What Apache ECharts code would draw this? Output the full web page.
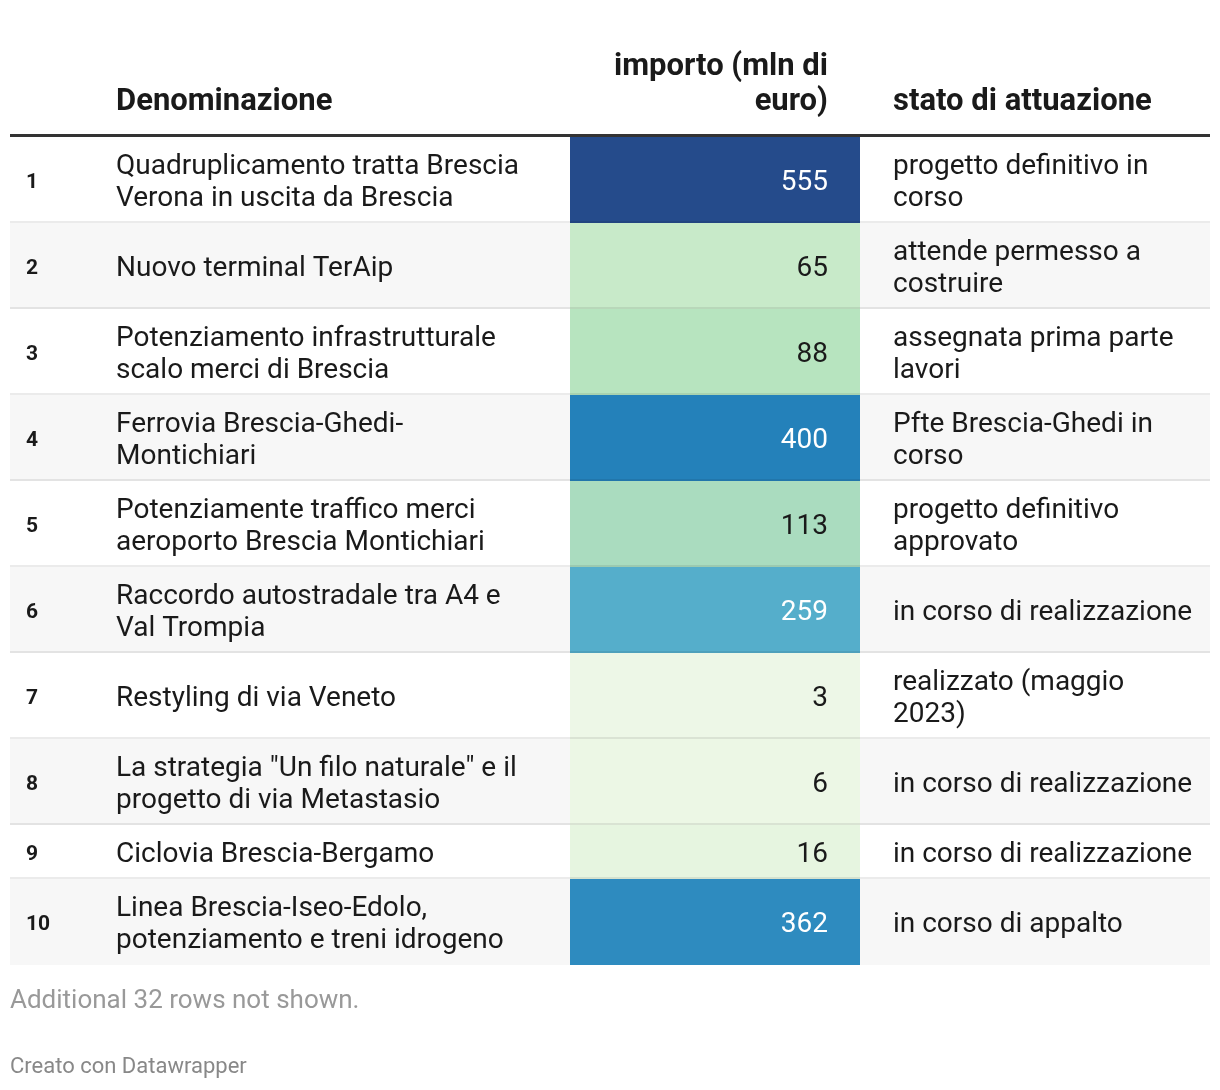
<!DOCTYPE html>
<html><head><meta charset="utf-8">
<script src="https://cdn.jsdelivr.net/npm/echarts@6/dist/echarts.min.js"></script>
<style>html,body{margin:0;padding:0;background:#fff}#c{width:1220px;height:1090px}</style>
</head><body><div id="c"></div>
<script>
// ---- data ----
const rowNumbers = ['1','2','3','4','5','6','7','8','9','10'];
const names = [
  'Quadruplicamento tratta Brescia\nVerona in uscita da Brescia',
  'Nuovo terminal TerAip',
  'Potenziamento infrastrutturale\nscalo merci di Brescia',
  'Ferrovia Brescia-Ghedi-\nMontichiari',
  'Potenziamente traffico merci\naeroporto Brescia Montichiari',
  'Raccordo autostradale tra A4 e\nVal Trompia',
  'Restyling di via Veneto',
  'La strategia "Un filo naturale" e il\nprogetto di via Metastasio',
  'Ciclovia Brescia-Bergamo',
  'Linea Brescia-Iseo-Edolo,\npotenziamento e treni idrogeno'
];
const amounts = [555, 65, 88, 400, 113, 259, 3, 6, 16, 362];
const statuses = [
  'progetto definitivo in\ncorso',
  'attende permesso a\ncostruire',
  'assegnata prima parte\nlavori',
  'Pfte Brescia-Ghedi in\ncorso',
  'progetto definitivo\napprovato',
  'in corso di realizzazione',
  'realizzato (maggio\n2023)',
  'in corso di realizzazione',
  'in corso di realizzazione',
  'in corso di appalto'
];
const headers = ['Denominazione', 'importo (mln di\neuro)', 'stato di attuazione'];
const footnote = 'Additional 32 rows not shown.';
const credit = 'Creato con Datawrapper';

// ---- layout / style ----
const LINE = 32, PAD = 22, TEXT_SHIFT = 3;
const TABLE_W = 1200;
const COL_NUM = 16, COL_NAME = 106, CELL_L = 560, CELL_R = 850, COL_VAL = 818, COL_STATE = 883;
const palette = ['#eff8e8','#d3eecf','#aee0ba','#9dcfcf','#7ac0cd','#58b0cc','#449ec6','#308dc0','#2380b9','#246eaa','#245d9b','#254b8b'];
const TXT = '#1a1a1a';
const FONT = 'Roboto';

// build rows
let acc = 0;
const rows = names.map((n, i) => {
  const lines = Math.max(n.split('\n').length, statuses[i].split('\n').length);
  const h = PAD + LINE * lines;
  const r = [acc, acc + h, amounts[i], i];
  acc += h;
  return r;
});
const total = acc;

const chart = echarts.init(document.getElementById('c'), null, {renderer: 'canvas'});
chart.setOption({
  animation: false,
  backgroundColor: '#fff',
  grid: {left: 10, top: 137, width: TABLE_W, height: total},
  xAxis: {type: 'value', min: 0, max: TABLE_W, show: false},
  yAxis: {type: 'value', min: 0, max: total, inverse: true, show: false},
  visualMap: {type: 'continuous', show: false, dimension: 2, seriesIndex: 0,
    min: 0, max: 555, inRange: {color: palette}},
  series: [{
    type: 'custom',
    data: rows,
    encode: {x: -1, y: [0, 1]},
    renderItem: function (params, api) {
      const s = api.value(0), e = api.value(1), v = api.value(2), i = api.value(3);
      const tl = api.coord([0, s]);
      const br = api.coord([TABLE_W, e]);
      const X = u => api.coord([u, s])[0];
      const top = tl[1], bot = br[1];
      const mid = (top + bot) / 2 + TEXT_SHIFT;
      const color = api.visual('color');
      const c = echarts.color.parse(color);
      const lum = 0.299 * c[0] + 0.587 * c[1] + 0.114 * c[2];
      const valFill = lum < 160 ? '#ffffff' : TXT;
      const children = [
        {type: 'rect', shape: {x: tl[0], y: top, width: br[0] - tl[0], height: bot - top},
          style: {fill: i % 2 ? '#f7f7f7' : '#ffffff'}},
        {type: 'rect', shape: {x: X(CELL_L), y: top, width: X(CELL_R) - X(CELL_L), height: bot - top},
          style: {fill: color}},
        {type: 'text', style: {text: rowNumbers[i], x: X(COL_NUM), y: mid, fill: TXT,
          font: 'bold 21px ' + FONT, textAlign: 'left', textVerticalAlign: 'middle'}},
        {type: 'text', style: {text: names[i], x: X(COL_NAME), y: mid, fill: TXT,
          font: '28px ' + FONT, lineHeight: LINE, textAlign: 'left', textVerticalAlign: 'middle'}},
        {type: 'text', style: {text: String(v), x: X(COL_VAL), y: mid, fill: valFill,
          font: '28px ' + FONT, textAlign: 'right', textVerticalAlign: 'middle'}},
        {type: 'text', style: {text: statuses[i], x: X(COL_STATE), y: mid, fill: TXT,
          font: '28px ' + FONT, lineHeight: LINE, textAlign: 'left', textVerticalAlign: 'middle'}}
      ];
      if (i < rows.length - 1) {
        children.push({type: 'line', shape: {x1: tl[0], y1: bot - 1, x2: br[0], y2: bot - 1},
          style: {stroke: 'rgba(0,0,0,0.08)', lineWidth: 2}});
      }
      return {type: 'group', children: children};
    }
  }],
  graphic: [
    {type: 'text', style: {text: headers[0], x: 116, y: 102, fill: TXT, font: 'bold 31px ' + FONT,
      textVerticalAlign: 'middle'}},
    {type: 'text', style: {text: headers[1], x: 828, y: 84.5, fill: TXT, font: 'bold 31px ' + FONT,
      lineHeight: 35, textAlign: 'right', textVerticalAlign: 'middle'}},
    {type: 'text', style: {text: headers[2], x: 893, y: 102, fill: TXT, font: 'bold 31px ' + FONT,
      textVerticalAlign: 'middle'}},
    {type: 'rect', shape: {x: 10, y: 134, width: TABLE_W, height: 3}, style: {fill: '#333333'}},
    {type: 'text', style: {text: footnote, x: 10, y: 1001, fill: '#999999', font: '26px ' + FONT,
      textVerticalAlign: 'middle'}},
    {type: 'text', style: {text: credit, x: 10, y: 1067, fill: '#888888', font: '22px ' + FONT,
      textVerticalAlign: 'middle'}}
  ]
});
</script>
</body></html>
